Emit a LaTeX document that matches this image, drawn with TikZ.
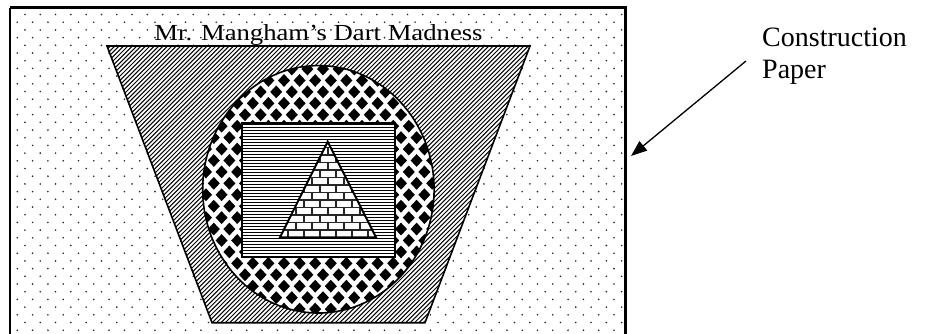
\documentclass[tikz,border=0pt]{standalone}
\usepackage{fontspec}
\setmainfont{Liberation Serif}
\usetikzlibrary{arrows.meta}
\tikzset{
  outline/.style={draw=black, line width=1.6pt},
  dotfill/.style={fill=black!85},
  hatchline/.style={draw=black, line width=1.0pt},
  rule/.style={draw=black, line width=1.4pt},
  mortar/.style={draw=black!85, line width=1.5pt},
  labeltext/.style={anchor=base west, font=\fontsize{28}{32}\selectfont, inner sep=0pt},
  pointer/.style={draw=black, line width=1.3pt, -{Triangle[length=16pt,width=12pt]}}
}
\begin{document}
\begin{tikzpicture}[x=1pt,y=-1pt]
\useasboundingbox (0,0) rectangle (932,333);
\clip (0,0) rectangle (932,333);
% construction paper with dots
\begin{scope}
  \clip (10,7.5) rectangle (625.5,345);
  \foreach \r [evaluate=\r as \yy using 6.8+\r*7.7, evaluate=\r as \off using {mod(\r,2)*7.65}] in {0,...,44} {
    \foreach \c in {0,...,41} {
      \fill[dotfill] ({2+\off+\c*15.3},\yy) circle (0.9pt);
    }
  }
\end{scope}
\draw[line width=2.2pt] (10,7.5) -- (625.5,7.5) -- (625.5,345) (10,7.5) -- (10,345);
% trapezoid
\fill[white] (107,46) -- (530,46) -- (425,322.7) -- (212,322.7) -- cycle;
\begin{scope}
  \clip (107,46) -- (530,46) -- (425,322.7) -- (212,322.7) -- cycle;
  \foreach \i in {0,...,170} {
    \draw[hatchline] ({-200+\i*4.4},330) -- ++(300,-300);
  }
\end{scope}
\draw[outline] (107,46) -- (530,46) -- (425,322.7) -- (212,322.7) -- cycle;
% ellipse with diamonds
\fill[white] (318.4,189.3) ellipse [x radius=115.7pt, y radius=123.7pt];
\begin{scope}
  \clip (318.4,189.3) ellipse [x radius=115.7pt, y radius=123.7pt];
  \foreach \r [evaluate=\r as \yy using 57.6+\r*11.43, evaluate=\r as \off using {mod(\r,2)*7.8}] in {0,...,23} {
    \foreach \c in {0,...,17} {
      \fill[black] ({190.4+\off+\c*15.6},\yy) ++(-6,0) -- ++(6,-6.4) -- ++(6,6.4) -- ++(-6,6.4) -- cycle;
    }
  }
\end{scope}
\draw[outline] (318.4,189.3) ellipse [x radius=115.7pt, y radius=123.7pt];
% rectangle with horizontal lines
\fill[white] (241.7,123.3) rectangle (395,256.7);
\begin{scope}
  \clip (241.7,123.3) rectangle (395,256.7);
  \foreach \i in {0,...,45} {
    \draw[rule] (240,{124.5+\i*3}) -- (397,{124.5+\i*3});
  }
\end{scope}
\draw[outline, line width=2pt] (241.7,123.3) rectangle (395,256.7);
% triangle with bricks
\fill[white] (327.7,141.7) -- (376,237.3) -- (280,237.3) -- cycle;
\begin{scope}
  \clip (327.7,141.7) -- (376,237.3) -- (280,237.3) -- cycle;
  \foreach \k [evaluate=\k as \ya using 237.3-\k*7.5, evaluate=\k as \yb using 237.3-(\k+1)*7.5, evaluate=\k as \off using {mod(\k,2)*8}] in {0,...,13} {
    \draw[mortar] (270,\ya) -- (390,\ya);
    \foreach \i in {0,...,7} {
      \draw[mortar] ({272+\off+\i*16},\ya) -- ({272+\off+\i*16},\yb);
    }
  }
\end{scope}
\draw[outline, line width=2pt] (327.7,141.7) -- (376,237.3) -- (280,237.3) -- cycle;
% title
\node[anchor=base, font=\fontsize{23}{27}\selectfont, inner sep=0pt] (title) at (318.5,40) {\scalebox{1.16}[1]{Mr. Mangham’s Dart Madness}};
% label and arrow
\node[labeltext] (lab1) at (762,46) {Construction};
\node[labeltext] (lab2) at (762,78) {Paper};
\coordinate (tail) at (746,61);
\coordinate (tip) at (631,156);
\draw[pointer] (tail) -- (tip);
\end{tikzpicture}
\end{document}
